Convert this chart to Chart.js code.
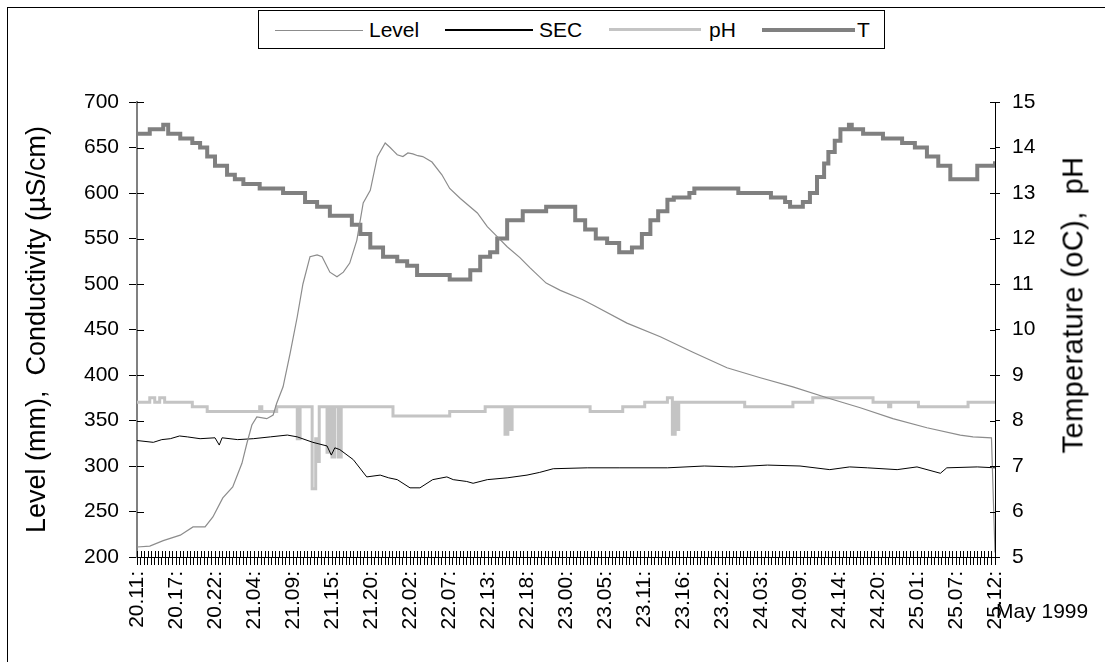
<!DOCTYPE html>
<html>
<head>
<meta charset="utf-8">
<script src="https://cdn.jsdelivr.net/npm/chart.js@4.4.1/dist/chart.umd.min.js"></script>
<style>
  html, body { margin: 0; padding: 0; background: #fff; }
  body { width: 1105px; height: 662px; position: relative; overflow: hidden; font-family: "Liberation Sans", Arial, sans-serif; }
  #wrap { position: absolute; left: 0; top: 0; width: 1105px; height: 662px; }
  #frame { position: absolute; left: 7px; top: 7px; width: 1200px; height: 800px; border-left: 1px solid #000; border-top: 1px solid #000; }
  #legend { position: absolute; left: 258px; top: 10px; width: 625px; height: 37px; border: 1px solid #000; background: #fff; }
  .sw { position: absolute; }
  .lt { position: absolute; top: 7px; font-size: 21px; line-height: 24px; color: #000; }
  .txt { position: absolute; font-size: 21px; color: #000; white-space: nowrap; }
  #rtitle { position: absolute; left: 1073px; top: 305px; font-size: 29px; letter-spacing: 0.4px; white-space: nowrap; transform: translate(-50%, -50%) rotate(-90deg); }
</style>
</head>
<body>
<div id="frame"></div>
<div id="wrap"><canvas id="chart" width="1105" height="662"></canvas></div>
<div id="legend">
  <div class="sw" style="left:16px;top:19px;width:88px;height:1px;background:#8c8c8c"></div>
  <div class="lt" style="left:110px">Level</div>
  <div class="sw" style="left:186px;top:18px;width:88px;height:2px;background:#000"></div>
  <div class="lt" style="left:280px">SEC</div>
  <div class="sw" style="left:350px;top:17px;width:92px;height:3px;background:#c4c4c4"></div>
  <div class="lt" style="left:450px">pH</div>
  <div class="sw" style="left:503px;top:17px;width:93px;height:4px;background:#808080"></div>
  <div class="lt" style="left:598px">T</div>
</div>
<div id="rtitle">Temperature (oC),&nbsp; pH</div>
<div class="txt" style="left:996px;top:599px">May 1999</div>
<script>
// x = hours since 20.05 11:30, one reading every half hour
const timeLabels = ['20.11:', '20.17:', '20.22:', '21.04:', '21.09:', '21.15:', '21.20:', '22.02:',
  '22.07:', '22.13:', '22.18:', '23.00:', '23.05:', '23.11:', '23.16:', '23.22:', '24.03:', '24.09:',
  '24.14:', '24.20:', '25.01:', '25.07:', '25.12:'];

// Level (mm), left axis
const levelData = [[0,211],[1.8,212],[3.7,218],[6.1,224],[7.9,233],[9.6,233],[10.7,244],[12.1,265],
  [13.5,277],[14.8,303],[15.5,325],[16.2,345],[16.9,354],[18.3,352],[19.2,356],[19.7,369],[20.6,387],
  [21.6,424],[22.6,464],[23.4,500],[24.4,530],[25.4,532],[26.1,530],[27.2,513],[28.2,508],[29.1,513],
  [30.0,523],[31.0,548],[31.9,589],[32.9,603],[33.9,640],[35.0,655],[35.7,650],[36.2,646],[36.7,642],
  [37.5,640],[38.2,644],[38.9,643],[39.6,641],[40.3,640],[41.6,634],[43.0,620],[44.1,605],[45.6,594],
  [48.0,578],[49.4,563],[50.8,552],[52.2,541],[54.0,529],[55.4,518],[57.7,501],[59.7,493],[62.8,483],
  [64.3,477],[69.1,457],[73.8,442],[78.4,425],[83.2,408],[87.9,397],[92.5,387],[97.3,375],[102.0,364],
  [106.6,352],[111.4,342],[116.1,334],[117.9,332],[120.5,331],[121,205]];

// SEC (µS/cm), left axis
const secData = [[0,328],[2.3,326],[3.5,329],[4.7,330],[6.0,333],[7.1,332],[8.9,330],[11.0,331],[11.6,323],
  [12.0,331],[14.2,329],[16.4,330],[18.8,332],[21.2,334],[22.6,332],[24.8,326],[26.8,322],[27.4,312],
  [27.9,320],[28.6,318],[30.5,307],[32.4,288],[34.3,290],[35.5,287],[36.7,285],[38.5,276],[39.9,276],
  [41.7,285],[43.7,288],[44.6,285],[46.5,283],[47.4,281],[49.4,285],[52.2,287],[55.0,290],[56.8,293],
  [58.7,297],[63.5,298],[68.1,298],[74.8,298],[80.0,300],[84.1,299],[88.9,301],[93.5,300],[97.7,296],
  [100.5,299],[103.0,298],[107.2,296],[110.0,299],[113.3,292],[114.2,298],[118.5,299],[121,298]];

// pH, right axis
const phData = [[0,8.4],[1.8,8.5],[2.5,8.4],[3.2,8.5],[3.9,8.4],[7.8,8.3],[9.9,8.2],[17.3,8.3],[17.6,8.2],
  [19.7,8.3],[22.6,7.6],[23.0,8.3],[24.7,6.5],[25.2,7.6],[25.4,7.1],[25.7,8.3],[26.8,7.3],[27.1,8.3],
  [27.5,7.2],[27.9,8.3],[28.4,7.2],[28.8,8.3],[36.1,8.1],[44.1,8.2],[49.1,8.3],[51.9,7.7],[52.3,8.3],
  [52.6,7.8],[52.9,8.3],[63.9,8.2],[68.5,8.3],[71.6,8.4],[74.8,8.5],[75.5,7.7],[75.9,8.4],[76.2,7.8],
  [76.4,8.4],[85.7,8.3],[92.5,8.4],[95.3,8.5],[103.8,8.4],[106.0,8.3],[106.3,8.4],[110.2,8.3],
  [117.2,8.4],[121,8.4]];

// T (oC), right axis
const tempData = [[0,14.3],[1.8,14.4],[3.7,14.5],[4.4,14.3],[6.1,14.2],[7.8,14.1],[8.9,14.0],[9.9,13.8],
  [11.0,13.6],[12.7,13.4],[13.8,13.3],[15.0,13.2],[17.3,13.1],[20.6,13.0],[23.7,12.8],[25.4,12.7],
  [27.2,12.5],[30.3,12.3],[31.5,12.1],[32.9,11.8],[34.7,11.6],[36.7,11.5],[38.1,11.4],[39.5,11.2],
  [44.1,11.1],[47.0,11.3],[48.4,11.6],[49.8,11.7],[50.8,12.0],[52.2,12.4],[54.4,12.6],[57.7,12.7],
  [61.8,12.4],[63.2,12.2],[64.7,12.0],[66.3,11.9],[68.0,11.7],[69.8,11.8],[71.2,12.1],[72.4,12.4],
  [73.5,12.6],[74.8,12.85],[75.7,12.9],[77.9,13.0],[78.6,13.1],[84.8,13.0],[89.4,12.9],[91.4,12.8],
  [92.1,12.7],[93.9,12.8],[94.9,13.0],[95.9,13.35],[96.9,13.65],[97.5,13.9],[98.4,14.15],[99.2,14.4],
  [100.4,14.5],[100.8,14.4],[102.4,14.3],[105.2,14.2],[107.9,14.1],[109.7,14.0],[111.4,13.8],
  [113.0,13.6],[114.7,13.3],[118.5,13.6],[121,13.7]];

const pts = arr => arr.map(p => ({x: p[0], y: p[1]}));
const FONT = {family: '"Liberation Sans", Arial, sans-serif', size: 21};

// Excel style "cross" tick marks: Chart.js draws the outer half, this draws the inner half
const crossTicks = {
  id: 'crossTicks',
  afterDraw(chart) {
    const c = chart.ctx;
    const {x, yL, yR} = chart.scales;
    c.save();
    c.strokeStyle = '#000';
    c.lineWidth = 1;
    c.beginPath();
    x.ticks.forEach((t, i) => {
      const px = Math.round(x.getPixelForTick(i)) + 0.5;
      c.moveTo(px, x.top); c.lineTo(px, x.top - 6);
    });
    yL.ticks.forEach((t, i) => {
      const py = Math.round(yL.getPixelForTick(i)) + 0.5;
      c.moveTo(yL.right, py); c.lineTo(yL.right + 7, py);
    });
    yR.ticks.forEach((t, i) => {
      const py = Math.round(yR.getPixelForTick(i)) + 0.5;
      c.moveTo(yR.left, py); c.lineTo(yR.left - 5, py);
    });
    c.stroke();
    c.restore();
  }
};

new Chart(document.getElementById('chart'), {
  type: 'line',
  data: {
    datasets: [
      {label: 'Level', data: pts(levelData), yAxisID: 'yL', borderColor: '#8c8c8c', borderWidth: 1.2},
      {label: 'SEC', data: pts(secData), yAxisID: 'yL', borderColor: '#000', borderWidth: 1},
      {label: 'pH', data: pts(phData), yAxisID: 'yR', borderColor: '#c4c4c4', borderWidth: 3, stepped: true},
      {label: 'T', data: pts(tempData), yAxisID: 'yR', borderColor: '#808080', borderWidth: 4, stepped: true}
    ]
  },
  options: {
    responsive: false,
    animation: false,
    events: [],
    elements: {point: {radius: 0}, line: {tension: 0, fill: false}},
    layout: {padding: {top: 102, left: 0, right: 0, bottom: 0}},
    plugins: {legend: {display: false}, tooltip: {enabled: false}},
    scales: {
      x: {
        type: 'linear', min: 0, max: 121,
        afterBuildTicks: s => { s.ticks = []; for (let i = 0; i <= 242; i++) s.ticks.push({value: i * 0.5}); },
        afterFit: s => { s.height = 105; },
        grid: {drawOnChartArea: false, tickLength: 8, color: '#000'},
        border: {color: '#000', width: 1},
        ticks: {
          autoSkip: false, maxRotation: 90, minRotation: 90, padding: 6, color: '#000', font: FONT,
          callback: (v, i) => (i % 11 === 0 ? timeLabels[i / 11] : '')
        }
      },
      yL: {
        position: 'left', min: 200, max: 700,
        afterFit: s => { s.width = 137; },
        grid: {drawOnChartArea: false, tickLength: 8, color: '#000'},
        border: {color: '#808080', width: 2},
        ticks: {stepSize: 50, padding: 10, color: '#000', font: FONT},
        title: {display: true, text: 'Level (mm),  Conductivity (µS/cm)', color: '#000',
          font: {family: FONT.family, size: 27}, padding: {top: 21, bottom: 0}}
      },
      yR: {
        position: 'right', min: 5, max: 15,
        afterFit: s => { s.width = 110; },
        grid: {drawOnChartArea: false, tickLength: 5, color: '#000'},
        border: {color: '#000', width: 1},
        ticks: {stepSize: 1, padding: 12, color: '#000', font: FONT}
      }
    }
  },
  plugins: [crossTicks]
});
</script>
</body>
</html>
